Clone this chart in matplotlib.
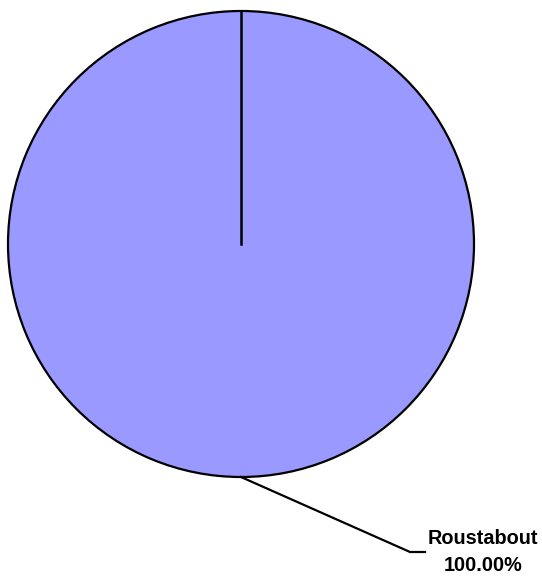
import numpy as np
import matplotlib.pyplot as plt

# Данные круговой диаграммы
categories = ['Roustabout']
values = [100.0]
pie_color = '#9999ff'

fig = plt.figure(figsize=(5.42, 5.76), dpi=100)
ax = fig.add_axes([0, 0, 1, 1])

cx, cy, r = 241, 332, 233
ax.pie(values, center=(cx, cy), radius=r, startangle=90, counterclock=False,
       colors=[pie_color], wedgeprops=dict(edgecolor='black', linewidth=1.6),
       frame=True)
ax.set_xlim(0, 542)
ax.set_ylim(0, 576)
ax.set_aspect('equal')
ax.axis('off')

# Граница сектора (начало на 12 часах)
ax.plot([cx, cx], [cy, cy + r], color='black', lw=1.8)

# Выноска к подписи
total = sum(values)
mid = np.deg2rad(90 - 360 * values[0] / total / 2)
x0, y0 = cx + r * np.cos(mid), cy + r * np.sin(mid)
ax.plot([x0, 410, 425], [y0, 24, 24], color='black', lw=1.6)

pct = values[0] / total * 100
ax.text(483, 24, f'{categories[0]}\n{pct:.2f}%', ha='center', va='center',
        fontsize=14.3, fontweight='bold', family='Liberation Sans',
        linespacing=1.55)

fig.savefig('out.png', dpi=100)
